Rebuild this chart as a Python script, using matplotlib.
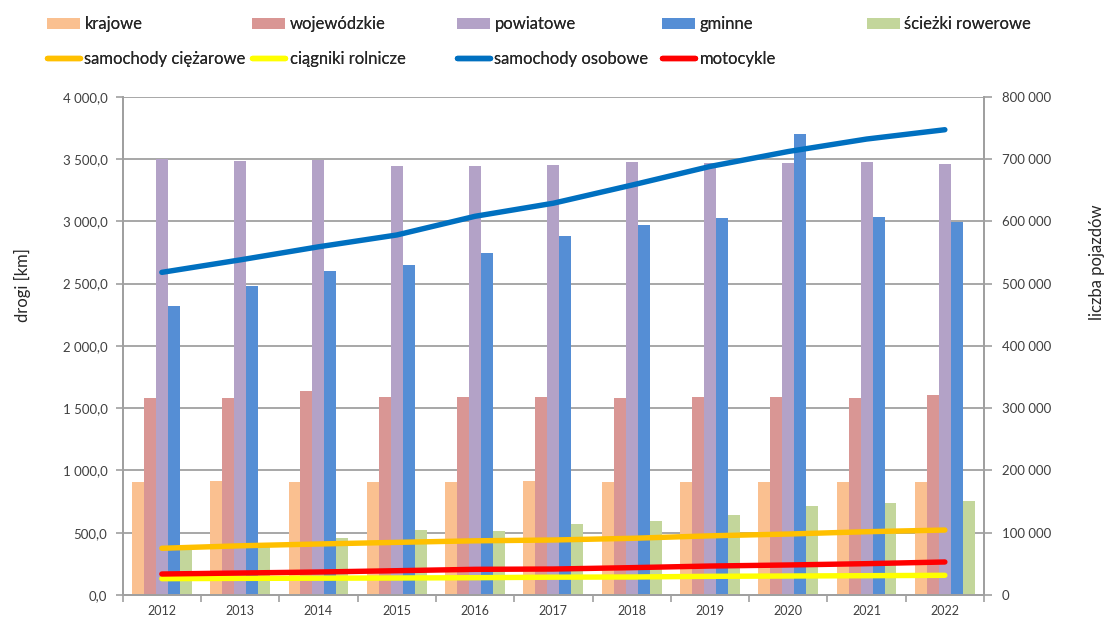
import numpy as np
import matplotlib
matplotlib.use("Agg")
import matplotlib.pyplot as plt
from matplotlib.ticker import FuncFormatter, FixedLocator

plt.rcParams['font.family'] = ['Lato', 'DejaVu Sans']

# data
years = ['2012', '2013', '2014', '2015', '2016', '2017', '2018', '2019', '2020', '2021', '2022']

krajowe = [905, 912, 905, 905, 905, 912, 905, 905, 905, 905, 905]
wojewodzkie = [1581, 1581, 1637, 1590, 1590, 1590, 1585, 1590, 1590, 1581, 1603]
powiatowe = [3500, 3486, 3494, 3446, 3446, 3452, 3478, 3465, 3465, 3478, 3459]
gminne = [2319, 2482, 2598, 2648, 2747, 2884, 2970, 3026, 3700, 3031, 2996]
sciezki = [385, 400, 460, 522, 514, 570, 596, 642, 714, 736, 754]

ciezarowe = [75000, 79000, 81900, 84500, 87000, 88300, 91000, 95000, 97900, 101600, 104300]
ciagniki = [26200, 26700, 27000, 27300, 27800, 28600, 28900, 30000, 30500, 31000, 31600]
osobowe = [518000, 538000, 559000, 578000, 608000, 629000, 658000, 688000, 712000, 732000, 747000]
motocykle = [33700, 35300, 36900, 39000, 41200, 41700, 43900, 46500, 48200, 50300, 53000]

bar_series = [
    ('krajowe', krajowe, '#FAC090'),
    ('wojewódzkie', wojewodzkie, '#D99694'),
    ('powiatowe', powiatowe, '#B3A2C7'),
    ('gminne', gminne, '#558ED5'),
    ('ścieżki rowerowe', sciezki, '#C3D69B'),
]
line_series = [
    ('samochody ciężarowe', ciezarowe, '#FFC000'),
    ('ciągniki rolnicze', ciagniki, '#FFFF00'),
    ('samochody osobowe', osobowe, '#0070C0'),
    ('motocykle', motocykle, '#FF0000'),
]

W, H = 1109, 617
fig = plt.figure(figsize=(W / 100, H / 100), dpi=100)
ax = fig.add_axes([122.7 / W, 1 - 595 / H, 861.3 / W, 498.3 / H])
ax2 = ax.twinx()

grid_c = '#A0A0A0'
text_c = '#404040'

x = np.arange(len(years))
bw = 0.153
bars = []
for i, (name, vals, col) in enumerate(bar_series):
    b = ax.bar(x + (i - 2) * bw, vals, bw, color=col, label=name, zorder=2)
    bars.append(b)

lines = []
for name, vals, col in line_series:
    ln, = ax2.plot(x, vals, color=col, lw=3.9, solid_capstyle='round', label=name)
    lines.append(ln)

ax.set_xlim(-0.5, len(years) - 0.5)
ax.set_ylim(0, 4000)
ax2.set_ylim(0, 800000)
ax.set_yticks(np.arange(0, 4001, 500))
ax2.set_yticks(np.arange(0, 800001, 100000))
ax.grid(axis='y', color=grid_c, lw=1.3, zorder=0)
ax.set_axisbelow(True)

ax.yaxis.set_major_formatter(FuncFormatter(lambda v, p: f"{v:,.1f}".replace(',', ' ').replace('.', ',')))
ax2.yaxis.set_major_formatter(FuncFormatter(lambda v, p: f"{v:,.0f}".replace(',', ' ')))

ax.set_xticks(x)
ax.set_xticklabels(years)
ax.xaxis.set_minor_locator(FixedLocator(np.arange(-0.5, len(years), 1.0)))
ax.tick_params(axis='x', which='major', length=0, pad=7, labelsize=9, labelcolor=text_c)
ax.tick_params(axis='x', which='minor', length=5, width=1.2, color=grid_c)
ax.tick_params(axis='y', length=5, width=1.2, color=grid_c, pad=6, labelsize=9.5, labelcolor=text_c)
ax2.tick_params(axis='y', length=6, width=1.2, color=grid_c, pad=7, labelsize=9.5, labelcolor=text_c)

for a in (ax, ax2):
    a.spines['top'].set_visible(False)
    for s in ('left', 'right', 'bottom'):
        a.spines[s].set_color(grid_c)
        a.spines[s].set_linewidth(1.3)

fig.text(22 / W, 1 - 285 / H, 'drogi [km]', rotation=90, ha='center', va='center',
         fontsize=12, color='#262626')
fig.text(1097 / W, 1 - 262 / H, 'liczba pojazdów', rotation=90, ha='center', va='center',
         fontsize=12, color='#262626')

# legend: five equal columns, two rows
columns = [[bars[0], lines[0]], [bars[1], lines[1]], [bars[2], lines[2]],
           [bars[3], lines[3]], [bars[4]]]
for i, col in enumerate(columns):
    leg = fig.legend(handles=col, loc='upper left',
                     bbox_to_anchor=((47 + 205 * i) / W, 1 - 16 / H),
                     frameon=False, fontsize=12, handlelength=2.0, handleheight=0.65,
                     handletextpad=0.25, labelspacing=1.15, borderpad=0, borderaxespad=0)
    for t in leg.get_texts():
        t.set_color('#262626')
    fig.add_artist(leg)

fig.savefig('out.png', dpi=100)
